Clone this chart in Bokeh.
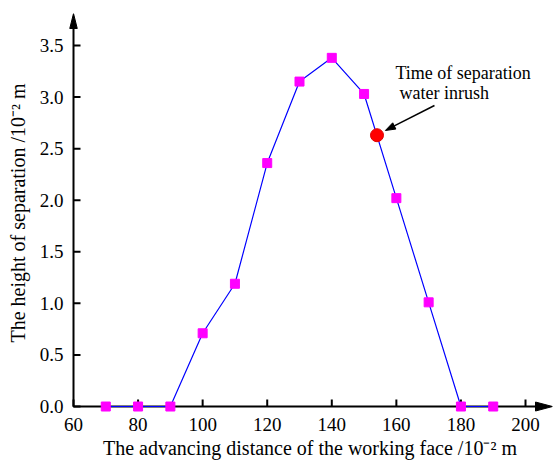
import math
from bokeh.plotting import figure
from bokeh.models import (Range1d, FixedTicker, NumeralTickFormatter, Label,
                          ColumnDataSource)
from bokeh.embed import file_html
from bokeh.resources import INLINE

# ---- data ----
distance = [70, 80, 90, 100, 110, 120, 130, 140, 150, 160, 170, 180, 190]
height = [0.0, 0.0, 0.0, 0.71, 1.19, 2.36, 3.15, 3.38, 3.03, 2.02, 1.01, 0.0, 0.0]
inrush_x = [154]
inrush_y = [2.63]
x_ticks = [60, 80, 100, 120, 140, 160, 180, 200]
y_ticks = [0.0, 0.5, 1.0, 1.5, 2.0, 2.5, 3.0, 3.5]
x_label = "The advancing distance of the working face /10\u207b\u00b2 m"
y_label = "The height of separation /10\u207b\u00b2 m"
note_lines = ["Time of separation", "water inrush"]
note_arrow_from = (171.8, 2.918)
note_arrow_to = (156.6, 2.676)

# ---- layout constants ----
FONT = "Liberation Serif"
XO, YO = 60, 0.0            # axis origin
X0, X1 = 58.14, 208.36      # frame x extent (small pad left of the y axis)
Y0, Y1 = -0.058, 3.81       # frame y extent (small pad below the x axis)
SX = 485 / (X1 - X0)        # px per x unit
SY = 399 / (Y1 - Y0)        # px per y unit
TICK_PX = 7
AXIS_W = 2


def head(tip, frm, length, width):
    """Arrow-head triangle (in data units) given pixel length/width."""
    dxp = (tip[0] - frm[0]) * SX
    dyp = (tip[1] - frm[1]) * SY
    n = math.hypot(dxp, dyp)
    ux, uy = dxp / n, dyp / n
    bx, by = -ux * length, -uy * length
    px, py = -uy * width / 2, ux * width / 2
    offs = [(0, 0), (bx + px, by + py), (bx - px, by - py)]
    return ([tip[0] + o[0] / SX for o in offs], [tip[1] + o[1] / SY for o in offs])


p = figure(width=555, height=461, output_backend="svg", toolbar_location=None,
           x_range=Range1d(X0, X1), y_range=Range1d(Y0, Y1),
           min_border_left=67, min_border_right=3, min_border_top=13,
           min_border_bottom=49)
p.outline_line_alpha = 0
p.xgrid.visible = False
p.ygrid.visible = False

for ax in (p.xaxis[0], p.yaxis[0]):
    ax.axis_line_alpha = 0
    ax.major_tick_line_alpha = 0
    ax.minor_tick_line_alpha = 0
    ax.major_tick_in = 0
    ax.major_tick_out = 0
    ax.minor_tick_in = 0
    ax.minor_tick_out = 0
    ax.major_label_text_font = FONT
    ax.major_label_text_font_size = "19px"
    ax.major_label_text_color = "black"
    ax.axis_label_text_font = FONT
    ax.axis_label_text_font_size = "20px"
    ax.axis_label_text_font_style = "normal"
    ax.axis_label_text_color = "black"

p.xaxis.ticker = FixedTicker(ticks=x_ticks)
p.yaxis.ticker = FixedTicker(ticks=y_ticks)
p.yaxis.formatter = NumeralTickFormatter(format="0.0")
p.xaxis.axis_label = x_label
p.yaxis.axis_label = y_label
p.xaxis.major_label_standoff = 5
p.xaxis.axis_label_standoff = 3
p.yaxis.major_label_standoff = 4
p.yaxis.axis_label_standoff = 8

# axis lines (L shape through the origin)
p.line(x=[XO, XO, X1 - 10 / SX], y=[Y1 - 10 / SY, YO, YO],
       line_color="#000000", line_width=AXIS_W)

# inward tick marks
p.segment(x0=x_ticks, y0=[YO] * len(x_ticks), x1=x_ticks,
          y1=[YO + TICK_PX / SY] * len(x_ticks), line_color="#000000", line_width=AXIS_W)
p.segment(x0=[XO] * len(y_ticks), y0=y_ticks, x1=[XO + TICK_PX / SX] * len(y_ticks),
          y1=y_ticks, line_color="#000000", line_width=AXIS_W)

# axis arrow heads
hx = head((X1, YO), (XO, YO), 17, 9)
hy = head((XO, Y1), (XO, YO), 15, 7.5)
p.patches(xs=[hx[0], hy[0]], ys=[hx[1], hy[1]], fill_color="black", line_color="black")

# data
src = ColumnDataSource(dict(x=distance, y=height))
p.line("x", "y", source=src, line_color="#0000FF", line_width=1.2)
p.scatter("x", "y", source=src, marker="square", size=9,
          fill_color="#FF00FF", line_color="#FF00FF")
p.scatter(inrush_x, inrush_y, marker="circle", size=13,
          fill_color="#FF0000", line_color="#E00000")

# annotation arrow
ha = head(note_arrow_to, note_arrow_from, 10, 7)
base_x = (ha[0][1] + ha[0][2]) / 2
base_y = (ha[1][1] + ha[1][2]) / 2
p.segment(x0=[note_arrow_from[0]], y0=[note_arrow_from[1]], x1=[base_x], y1=[base_y],
          line_color="black", line_width=1.5)
p.patch(x=ha[0], y=ha[1], fill_color="black", line_color="black")

p.add_layout(Label(x=159.7, y=3.238, text=note_lines[0], text_font=FONT,
                   text_font_size="18px", text_baseline="alphabetic",
                   text_color="black"))
p.add_layout(Label(x=161.0, y=3.035, text=note_lines[1], text_font=FONT,
                   text_font_size="18px", text_baseline="alphabetic",
                   text_color="black"))

open("out.html", "w").write(file_html(p, INLINE))
